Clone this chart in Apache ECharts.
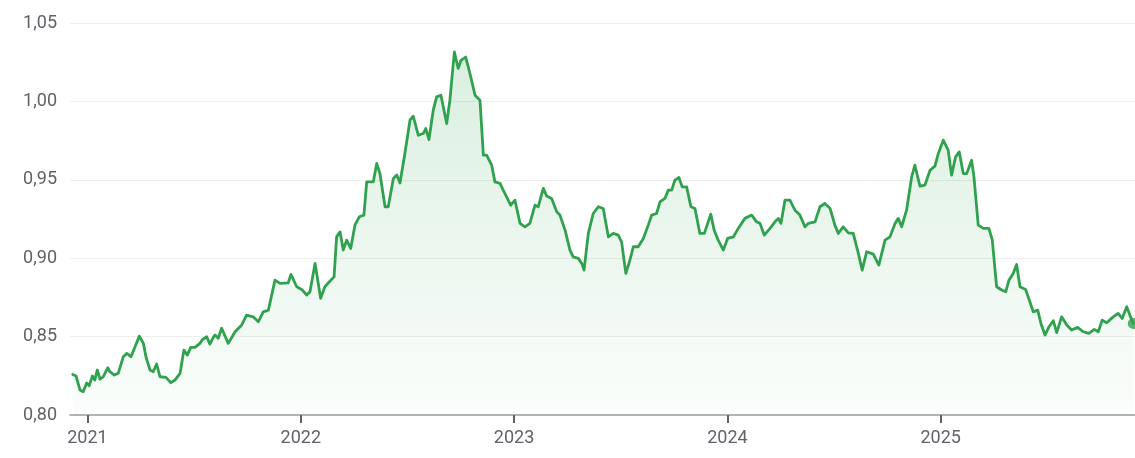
<!DOCTYPE html>
<html>
<head>
<meta charset="utf-8">
<script src="https://cdn.jsdelivr.net/npm/echarts@6/dist/echarts.min.js"></script>
<style>
html,body{margin:0;padding:0;background:#fff;}
#c{width:1135px;height:458px;}
</style>
</head>
<body>
<div id="c"></div>
<script>
// decimal years of each observation
var dates = [2020.931,2020.946,2020.965,2020.980,2020.996,2021.008,2021.023,2021.034,2021.046,2021.059,
2021.074,2021.095,2021.105,2021.126,2021.144,2021.168,2021.184,2021.204,2021.223,2021.243,
2021.262,2021.274,2021.293,2021.308,2021.324,2021.340,2021.368,2021.391,2021.410,2021.434,
2021.452,2021.468,2021.484,2021.504,2021.527,2021.540,2021.559,2021.574,2021.590,2021.598,
2021.613,2021.629,2021.660,2021.692,2021.723,2021.746,2021.777,2021.801,2021.824,2021.848,
2021.879,2021.902,2021.941,2021.954,2021.981,2022.004,2022.028,2022.043,2022.067,2022.082,
2022.093,2022.113,2022.134,2022.156,2022.168,2022.184,2022.199,2022.215,2022.234,2022.254,
2022.274,2022.296,2022.309,2022.340,2022.356,2022.371,2022.395,2022.410,2022.434,2022.450,
2022.465,2022.488,2022.512,2022.527,2022.551,2022.574,2022.586,2022.601,2022.621,2022.637,
2022.657,2022.684,2022.699,2022.720,2022.738,2022.751,2022.773,2022.793,2022.817,2022.840,
2022.856,2022.871,2022.895,2022.910,2022.934,2022.949,2022.965,2022.984,2023.004,2023.028,
2023.051,2023.074,2023.098,2023.113,2023.137,2023.153,2023.176,2023.200,2023.215,2023.239,
2023.262,2023.277,2023.301,2023.317,2023.328,2023.348,2023.371,2023.395,2023.418,2023.442,
2023.465,2023.488,2023.504,2023.524,2023.543,2023.559,2023.582,2023.606,2023.629,2023.645,
2023.668,2023.684,2023.707,2023.723,2023.739,2023.754,2023.773,2023.788,2023.809,2023.829,
2023.848,2023.871,2023.892,2023.922,2023.938,2023.957,2023.981,2024.001,2024.028,2024.051,
2024.082,2024.114,2024.137,2024.153,2024.173,2024.200,2024.223,2024.239,2024.251,2024.270,
2024.293,2024.317,2024.340,2024.364,2024.379,2024.411,2024.434,2024.457,2024.481,2024.504,
2024.520,2024.543,2024.567,2024.590,2024.614,2024.632,2024.653,2024.684,2024.710,2024.739,
2024.762,2024.786,2024.801,2024.817,2024.840,2024.864,2024.879,2024.903,2024.926,2024.950,
2024.973,2024.989,2025.012,2025.035,2025.051,2025.070,2025.087,2025.106,2025.122,2025.145,
2025.156,2025.176,2025.200,2025.226,2025.242,2025.262,2025.286,2025.305,2025.320,2025.340,
2025.356,2025.372,2025.398,2025.418,2025.434,2025.455,2025.470,2025.489,2025.508,2025.528,
2025.544,2025.567,2025.591,2025.614,2025.642,2025.668,2025.695,2025.720,2025.739,2025.757,
2025.778,2025.809,2025.832,2025.851,2025.872,2025.887,2025.903];

// exchange-rate values
var rates = [0.8259,0.8249,0.8159,0.8148,0.8204,0.8187,0.8249,0.8223,0.8287,0.8228,
0.8244,0.8301,0.8276,0.8255,0.8266,0.8372,0.8393,0.8372,0.8435,0.8503,
0.8457,0.8372,0.8287,0.8276,0.8325,0.8244,0.8240,0.8206,0.8223,0.8266,
0.8414,0.8382,0.8431,0.8431,0.8457,0.8482,0.8499,0.8452,0.8495,0.8510,
0.8489,0.8553,0.8457,0.8531,0.8574,0.8637,0.8626,0.8595,0.8658,0.8669,
0.8860,0.8839,0.8843,0.8897,0.8818,0.8801,0.8765,0.8786,0.8967,0.8839,
0.8744,0.8818,0.8850,0.8881,0.9136,0.9168,0.9052,0.9115,0.9062,0.9211,
0.9264,0.9275,0.9487,0.9487,0.9604,0.9540,0.9328,0.9328,0.9509,0.9530,
0.9480,0.9668,0.9880,0.9906,0.9784,0.9795,0.9827,0.9757,0.9944,1.0029,
1.0039,0.9859,1.0008,1.0315,1.0210,1.0262,1.0283,1.0178,1.0039,1.0008,
0.9657,0.9657,0.9593,0.9487,0.9477,0.9434,0.9391,0.9338,0.9370,0.9222,
0.9200,0.9222,0.9338,0.9328,0.9445,0.9396,0.9381,0.9296,0.9275,0.9179,
0.9052,0.9009,0.8999,0.8967,0.8924,0.9158,0.9285,0.9328,0.9317,0.9136,
0.9158,0.9147,0.9104,0.8903,0.8988,0.9073,0.9073,0.9126,0.9211,0.9275,
0.9285,0.9359,0.9381,0.9434,0.9434,0.9498,0.9515,0.9455,0.9455,0.9328,
0.9317,0.9158,0.9158,0.9281,0.9179,0.9115,0.9052,0.9126,0.9136,0.9190,
0.9254,0.9275,0.9232,0.9222,0.9147,0.9190,0.9232,0.9254,0.9222,0.9370,
0.9370,0.9306,0.9275,0.9200,0.9222,0.9232,0.9328,0.9349,0.9319,0.9211,
0.9158,0.9200,0.9162,0.9158,0.9031,0.8924,0.9041,0.9026,0.8956,0.9115,
0.9136,0.9222,0.9254,0.9200,0.9306,0.9519,0.9593,0.9459,0.9466,0.9561,
0.9587,0.9668,0.9753,0.9689,0.9530,0.9646,0.9678,0.9540,0.9540,0.9625,
0.9519,0.9211,0.9190,0.9190,0.9115,0.8818,0.8797,0.8786,0.8860,0.8903,
0.8960,0.8818,0.8801,0.8722,0.8658,0.8669,0.8584,0.8510,0.8563,0.8601,
0.8525,0.8626,0.8574,0.8542,0.8559,0.8531,0.8521,0.8546,0.8531,0.8605,
0.8588,0.8626,0.8648,0.8616,0.8690,0.8637,0.8584];

var yearTicks = [2021, 2022, 2023, 2024, 2025];
var yTicks = [0.80, 0.85, 0.90, 0.95, 1.00, 1.05];

var seriesData = dates.map(function (d, i) { return [d, rates[i]]; });
var lastPoint = seriesData[seriesData.length - 1];

var chart = echarts.init(document.getElementById('c'), null, {renderer: 'canvas'});
var green = '#30a14e';
chart.setOption({
  animation: false,
  grid: {left: 70, right: 0, top: 23, bottom: 43, containLabel: false},
  xAxis: {
    type: 'value',
    min: 2020.918,
    max: 2025.911,
    splitLine: {show: false},
    axisLine: {show: true, lineStyle: {color: '#9aa0a6', width: 1.5}},
    axisTick: {show: true, customValues: yearTicks, length: 8, lineStyle: {color: '#5f6368', width: 2}},
    axisLabel: {
      customValues: yearTicks,
      formatter: function (v) { return String(Math.round(v)); },
      color: '#5f6368', fontSize: 18, fontFamily: 'Roboto', margin: 14
    }
  },
  yAxis: {
    type: 'value',
    min: yTicks[0],
    max: yTicks[yTicks.length - 1],
    interval: 0.05,
    axisLine: {show: false},
    axisTick: {show: false},
    splitLine: {show: true, lineStyle: {color: '#eeeeee', width: 1}},
    axisLabel: {
      formatter: function (v) { return v.toFixed(2).replace('.', ','); },
      color: '#5f6368', fontSize: 18, fontFamily: 'Roboto', margin: 13
    }
  },
  series: [{
    type: 'line',
    data: seriesData,
    showSymbol: false,
    symbol: 'none',
    smooth: false,
    lineStyle: {color: green, width: 2.8, join: 'round', cap: 'round'},
    areaStyle: {
      color: new echarts.graphic.LinearGradient(0, 0, 0, 1, [
        {offset: 0, color: 'rgba(52,168,83,0.26)'},
        {offset: 1, color: 'rgba(52,168,83,0.03)'}
      ])
    },
    z: 2
  }, {
    type: 'scatter',
    data: [lastPoint],
    symbol: 'circle',
    symbolSize: 11,
    itemStyle: {color: green},
    z: 3
  }]
});
</script>
</body>
</html>
